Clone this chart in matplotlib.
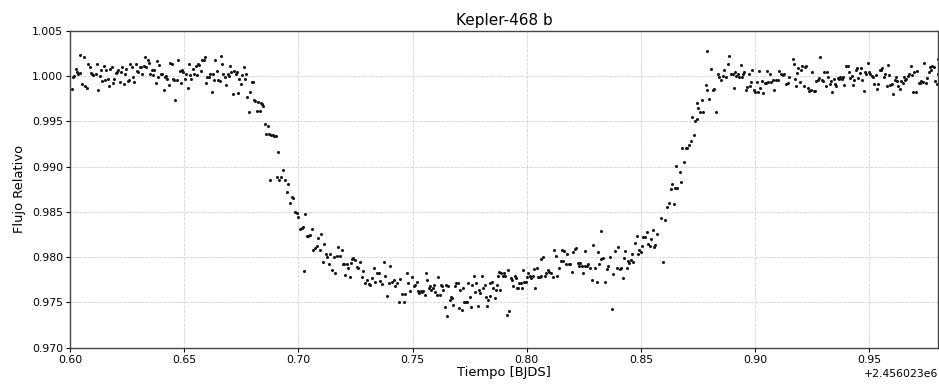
import numpy as np
import matplotlib
matplotlib.use("Agg")
import matplotlib.pyplot as plt

# === Data (time offsets in days, relative flux) ===
BJD_BASE = 2456023.0

t_pre = [0.6007, 0.6013, 0.6019, 0.6025, 0.6031, 0.6036, 0.6042, 0.6045, 0.6054, 0.6060,
         0.6068, 0.6074, 0.6080, 0.6086, 0.6092, 0.6098, 0.6103, 0.6112, 0.6118, 0.6124,
         0.6130, 0.6136, 0.6141, 0.6147, 0.6153, 0.6159, 0.6165, 0.6170, 0.6176, 0.6182,
         0.6188, 0.6194, 0.6200, 0.6205, 0.6211, 0.6217, 0.6223, 0.6229, 0.6235, 0.6240,
         0.6246, 0.6252, 0.6258, 0.6264, 0.6270, 0.6275, 0.6281, 0.6287, 0.6293, 0.6299,
         0.6305, 0.6310, 0.6316, 0.6322, 0.6328, 0.6334, 0.6340, 0.6345, 0.6351, 0.6357,
         0.6363, 0.6369, 0.6375, 0.6380, 0.6386, 0.6392, 0.6398, 0.6404, 0.6410, 0.6415,
         0.6421, 0.6427, 0.6433, 0.6439, 0.6445, 0.6450, 0.6456, 0.6462, 0.6468, 0.6474,
         0.6480, 0.6485, 0.6491, 0.6497, 0.6503, 0.6509, 0.6515, 0.6520, 0.6526, 0.6532,
         0.6538, 0.6544, 0.6550, 0.6555, 0.6561, 0.6567, 0.6573, 0.6579, 0.6585, 0.6590,
         0.6596, 0.6602, 0.6608, 0.6614, 0.6620, 0.6625, 0.6631, 0.6637, 0.6643, 0.6649,
         0.6655, 0.6660, 0.6666, 0.6672, 0.6678, 0.6684, 0.6690, 0.6695, 0.6701, 0.6707,
         0.6713, 0.6719, 0.6725, 0.6730, 0.6736, 0.6742, 0.6748, 0.6754, 0.6760, 0.6765,
         0.6771, 0.6777, 0.6783, 0.6789, 0.6795, 0.6800, 0.6806, 0.6812, 0.6818, 0.6824,
         0.6830, 0.6835, 0.6841, 0.6847, 0.6853, 0.6859, 0.6865, 0.6870, 0.6876, 0.6882,
         0.6888, 0.6894, 0.6900, 0.6905, 0.6911, 0.6917]
f_pre = [0.9986, 0.9999, 1.0000, 1.0008, 1.0005, 1.0002, 1.0004, 1.0024, 0.9991, 1.0021,
         0.9989, 0.9987, 1.0014, 1.0010, 1.0004, 1.0002, 1.0001, 1.0002, 1.0014, 0.9985,
         1.0000, 1.0007, 0.9995, 1.0011, 0.9996, 1.0007, 0.9997, 0.9989, 1.0008, 1.0010,
         0.9992, 0.9997, 1.0004, 1.0005, 1.0007, 0.9994, 1.0005, 1.0010, 0.9991, 1.0003,
         1.0008, 0.9995, 0.9996, 1.0013, 1.0010, 0.9999, 0.9994, 1.0013, 1.0006, 1.0005,
         1.0010, 1.0010, 1.0003, 1.0011, 1.0021, 1.0010, 1.0018, 1.0015, 1.0003, 1.0007,
         1.0001, 1.0007, 0.9992, 1.0017, 0.9999, 1.0012, 1.0002, 1.0002, 0.9985, 0.9999,
         1.0000, 0.9997, 0.9990, 1.0015, 1.0014, 0.9997, 0.9996, 0.9974, 0.9996, 1.0018,
         1.0006, 0.9992, 1.0007, 1.0005, 0.9997, 1.0003, 0.9987, 1.0013, 1.0001, 0.9997,
         1.0008, 1.0002, 1.0011, 1.0001, 1.0014, 1.0012, 1.0006, 1.0018, 1.0018, 1.0021,
         0.9993, 0.9999, 0.9999, 1.0002, 0.9983, 1.0003, 0.9996, 1.0018, 1.0006, 0.9996,
         0.9995, 1.0022, 1.0014, 1.0003, 0.9999, 0.9990, 1.0002, 1.0000, 1.0011, 1.0005,
         0.9980, 1.0006, 1.0002, 1.0005, 0.9982, 0.9997, 0.9991, 1.0001, 1.0010, 0.9997,
         1.0002, 0.9977, 0.9960, 0.9983, 0.9994, 0.9994, 0.9974, 0.9973, 0.9962, 0.9972,
         0.9962, 0.9970, 0.9969, 0.9967, 0.9947, 0.9936, 0.9945, 0.9936, 0.9885, 0.9935,
         0.9935, 0.9934, 0.9934, 0.9889, 0.9916, 0.9885]

t_ingress = [0.6923, 0.6934, 0.6942, 0.6949, 0.6956, 0.6963, 0.6971, 0.6978, 0.6985, 0.6993,
             0.7000, 0.7007, 0.7015, 0.7022, 0.7025, 0.7029, 0.7037, 0.7044, 0.7051, 0.7058,
             0.7066, 0.7073, 0.7080, 0.7088, 0.7095, 0.7098, 0.7107, 0.7113, 0.7121, 0.7127,
             0.7136, 0.7139, 0.7146, 0.7154, 0.7161, 0.7168, 0.7175, 0.7183, 0.7190, 0.7194,
             0.7200, 0.7205, 0.7212, 0.7219, 0.7224, 0.7230, 0.7235, 0.7241, 0.7249, 0.7256,
             0.7263, 0.7270, 0.7278, 0.7285, 0.7292, 0.7300, 0.7307, 0.7314, 0.7322, 0.7329,
             0.7336, 0.7344, 0.7351, 0.7358, 0.7366, 0.7373, 0.7380, 0.7387, 0.7395, 0.7402,
             0.7409, 0.7417, 0.7424, 0.7431, 0.7439, 0.7443, 0.7453, 0.7461, 0.7468, 0.7475,
             0.7482, 0.7490, 0.7497]
f_ingress = [0.9889, 0.9896, 0.9885, 0.9872, 0.9881, 0.9860, 0.9866, 0.9865, 0.9850, 0.9849,
             0.9844, 0.9831, 0.9832, 0.9833, 0.9785, 0.9848, 0.9823, 0.9823, 0.9824, 0.9831,
             0.9808, 0.9810, 0.9812, 0.9821, 0.9808, 0.9826, 0.9795, 0.9815, 0.9803, 0.9800,
             0.9792, 0.9804, 0.9786, 0.9800, 0.9782, 0.9801, 0.9811, 0.9801, 0.9808, 0.9793,
             0.9793, 0.9780, 0.9793, 0.9788, 0.9778, 0.9794, 0.9798, 0.9799, 0.9797, 0.9789,
             0.9788, 0.9795, 0.9778, 0.9785, 0.9772, 0.9775, 0.9770, 0.9769, 0.9777, 0.9788,
             0.9773, 0.9782, 0.9783, 0.9774, 0.9770, 0.9795, 0.9779, 0.9757, 0.9772, 0.9790,
             0.9773, 0.9775, 0.9768, 0.9772, 0.9750, 0.9776, 0.9759, 0.9750, 0.9759, 0.9782,
             0.9772, 0.9763, 0.9778]

t_bottom = [0.7506, 0.7512, 0.7518, 0.7524, 0.7529, 0.7535, 0.7541, 0.7547, 0.7553, 0.7559,
            0.7565, 0.7571, 0.7576, 0.7582, 0.7588, 0.7594, 0.7600, 0.7606, 0.7612, 0.7618,
            0.7623, 0.7629, 0.7635, 0.7641, 0.7647, 0.7650, 0.7656, 0.7662, 0.7668, 0.7673,
            0.7679, 0.7685, 0.7691, 0.7697, 0.7703, 0.7709, 0.7715, 0.7720, 0.7726, 0.7732,
            0.7738, 0.7744, 0.7750, 0.7756, 0.7762, 0.7768, 0.7773, 0.7779, 0.7785, 0.7791,
            0.7797, 0.7803, 0.7809, 0.7815, 0.7820, 0.7826, 0.7832, 0.7838, 0.7841, 0.7848,
            0.7853, 0.7859, 0.7865, 0.7870, 0.7873, 0.7878, 0.7882, 0.7888, 0.7894, 0.7900,
            0.7906, 0.7912, 0.7917, 0.7923, 0.7929, 0.7935, 0.7941, 0.7947, 0.7951, 0.7956,
            0.7962, 0.7967, 0.7973, 0.7979, 0.7982, 0.7988, 0.7995, 0.8000, 0.8006, 0.8012,
            0.8017, 0.8025, 0.8032, 0.8038, 0.8044, 0.8050, 0.8056, 0.8062]
f_bottom = [0.9768, 0.9769, 0.9773, 0.9763, 0.9760, 0.9763, 0.9762, 0.9763, 0.9758, 0.9782,
            0.9775, 0.9766, 0.9768, 0.9764, 0.9766, 0.9769, 0.9761, 0.9758, 0.9778, 0.9758,
            0.9769, 0.9768, 0.9764, 0.9745, 0.9769, 0.9735, 0.9768, 0.9753, 0.9756, 0.9755,
            0.9747, 0.9768, 0.9771, 0.9771, 0.9744, 0.9764, 0.9742, 0.9766, 0.9751, 0.9751,
            0.9751, 0.9771, 0.9756, 0.9745, 0.9769, 0.9779, 0.9762, 0.9771, 0.9746, 0.9764,
            0.9760, 0.9779, 0.9766, 0.9769, 0.9756, 0.9746, 0.9753, 0.9771, 0.9757, 0.9773,
            0.9766, 0.9755, 0.9764, 0.9769, 0.9779, 0.9784, 0.9764, 0.9782, 0.9779, 0.9782,
            0.9779, 0.9736, 0.9786, 0.9741, 0.9777, 0.9775, 0.9768, 0.9779, 0.9777, 0.9766,
            0.9766, 0.9771, 0.9771, 0.9766, 0.9786, 0.9773, 0.9773, 0.9778, 0.9782, 0.9779,
            0.9777, 0.9779, 0.9787, 0.9766, 0.9788, 0.9778, 0.9778, 0.9798]

t_late = [0.8064, 0.8072, 0.8079, 0.8086, 0.8094, 0.8098, 0.8104, 0.8113, 0.8118, 0.8127,
          0.8133, 0.8142, 0.8148, 0.8154, 0.8159, 0.8165, 0.8171, 0.8177, 0.8183, 0.8189,
          0.8197, 0.8203, 0.8209, 0.8215, 0.8224, 0.8230, 0.8235, 0.8241, 0.8247, 0.8253,
          0.8256, 0.8262, 0.8269, 0.8276, 0.8284, 0.8291, 0.8298, 0.8306, 0.8311, 0.8317,
          0.8323, 0.8327, 0.8335, 0.8342, 0.8349, 0.8357, 0.8364, 0.8371, 0.8379, 0.8386,
          0.8393, 0.8401, 0.8408, 0.8414, 0.8420, 0.8425, 0.8431, 0.8437, 0.8443, 0.8449,
          0.8455, 0.8461, 0.8466, 0.8474, 0.8481, 0.8487, 0.8493, 0.8499, 0.8504, 0.8510,
          0.8518, 0.8525, 0.8532, 0.8539, 0.8545, 0.8551, 0.8557, 0.8563]
f_late = [0.9779, 0.9800, 0.9779, 0.9782, 0.9786, 0.9784, 0.9782, 0.9778, 0.9808, 0.9801,
          0.9779, 0.9788, 0.9796, 0.9808, 0.9796, 0.9807, 0.9792, 0.9803, 0.9792, 0.9793,
          0.9784, 0.9806, 0.9809, 0.9810, 0.9794, 0.9790, 0.9794, 0.9790, 0.9782, 0.9790,
          0.9807, 0.9790, 0.9793, 0.9788, 0.9775, 0.9813, 0.9788, 0.9773, 0.9806, 0.9792,
          0.9798, 0.9829, 0.9799, 0.9773, 0.9787, 0.9790, 0.9800, 0.9743, 0.9781, 0.9807,
          0.9788, 0.9811, 0.9787, 0.9788, 0.9777, 0.9799, 0.9807, 0.9788, 0.9796, 0.9794,
          0.9797, 0.9804, 0.9795, 0.9816, 0.9823, 0.9803, 0.9808, 0.9806, 0.9812, 0.9822,
          0.9822, 0.9828, 0.9815, 0.9812, 0.9820, 0.9830, 0.9811, 0.9813]

t_egress = [0.8572, 0.8586, 0.8598, 0.8605, 0.8615, 0.8623, 0.8630, 0.8637, 0.8643, 0.8649,
            0.8652, 0.8659, 0.8670, 0.8674, 0.8681, 0.8689, 0.8696, 0.8703, 0.8711, 0.8718,
            0.8725, 0.8730, 0.8737, 0.8743, 0.8747, 0.8751, 0.8757, 0.8766, 0.8772, 0.8784,
            0.8788, 0.8791, 0.8798, 0.8806, 0.8813, 0.8820, 0.8827, 0.8835, 0.8842, 0.8849,
            0.8857, 0.8864, 0.8871, 0.8879, 0.8886, 0.8893, 0.8901, 0.8908, 0.8912, 0.8918,
            0.8923, 0.8930, 0.8936, 0.8942, 0.8947, 0.8953, 0.8959, 0.8965, 0.8971, 0.8977,
            0.8982, 0.8988, 0.8994, 0.9000, 0.9006, 0.9012, 0.9018, 0.9023, 0.9029, 0.9035,
            0.9041, 0.9047, 0.9053, 0.9058, 0.9064, 0.9070, 0.9076, 0.9083, 0.9091, 0.9098,
            0.9105, 0.9113, 0.9120, 0.9127, 0.9135, 0.9142, 0.9149]
f_egress = [0.9826, 0.9843, 0.9795, 0.9841, 0.9856, 0.9860, 0.9875, 0.9881, 0.9859, 0.9876,
            0.9901, 0.9876, 0.9894, 0.9883, 0.9921, 0.9905, 0.9921, 0.9921, 0.9924, 0.9928,
            0.9955, 0.9935, 0.9950, 0.9970, 0.9953, 0.9965, 0.9961, 0.9974, 0.9961, 0.9990,
            1.0028, 0.9985, 0.9975, 1.0008, 0.9985, 0.9986, 0.9960, 1.0003, 0.9999, 0.9996,
            1.0000, 1.0007, 0.9999, 1.0014, 1.0022, 1.0003, 1.0002, 0.9987, 1.0005, 1.0000,
            1.0003, 0.9999, 1.0012, 0.9999, 1.0003, 1.0005, 0.9985, 0.9988, 1.0003, 0.9989,
            0.9994, 1.0007, 0.9985, 0.9983, 0.9994, 0.9983, 1.0006, 0.9987, 0.9995, 0.9982,
            0.9993, 0.9993, 1.0006, 0.9994, 1.0002, 0.9994, 0.9996, 0.9985, 0.9996, 0.9996,
            1.0006, 1.0002, 1.0001, 1.0003, 0.9991, 0.9993, 0.9999]

t_post = [0.9164, 0.9168, 0.9174, 0.9178, 0.9183, 0.9189, 0.9194, 0.9200, 0.9206, 0.9212,
          0.9218, 0.9224, 0.9230, 0.9237, 0.9244, 0.9250, 0.9256, 0.9262, 0.9268, 0.9273,
          0.9279, 0.9285, 0.9291, 0.9297, 0.9303, 0.9308, 0.9314, 0.9320, 0.9326, 0.9332,
          0.9338, 0.9344, 0.9349, 0.9355, 0.9361, 0.9367, 0.9373, 0.9379, 0.9385, 0.9390,
          0.9399, 0.9405, 0.9411, 0.9417, 0.9423, 0.9428, 0.9434, 0.9440, 0.9446, 0.9452,
          0.9458, 0.9463, 0.9469, 0.9475, 0.9481, 0.9487, 0.9493, 0.9499, 0.9504, 0.9510,
          0.9516, 0.9522, 0.9528, 0.9534, 0.9539, 0.9545, 0.9551, 0.9557, 0.9563, 0.9569,
          0.9575, 0.9580, 0.9586, 0.9592, 0.9598, 0.9604, 0.9610, 0.9615, 0.9621, 0.9627,
          0.9633, 0.9639, 0.9645, 0.9651, 0.9656, 0.9662, 0.9668, 0.9674, 0.9680, 0.9686,
          0.9692, 0.9697, 0.9703, 0.9709, 0.9715, 0.9721, 0.9727, 0.9735, 0.9741, 0.9747,
          0.9753, 0.9759, 0.9765, 0.9770, 0.9776, 0.9782, 0.9788, 0.9794, 0.9798, 0.9800]
f_post = [1.0019, 1.0013, 0.9997, 0.9989, 1.0004, 1.0009, 0.9994, 1.0007, 1.0011, 0.9989,
          1.0010, 1.0011, 0.9987, 0.9984, 0.9985, 1.0005, 0.9984, 0.9984, 0.9995, 0.9996,
          0.9998, 1.0021, 0.9996, 0.9995, 1.0005, 0.9989, 1.0005, 0.9999, 0.9991, 0.9995,
          0.9983, 0.9997, 0.9991, 0.9989, 0.9998, 0.9997, 0.9999, 0.9997, 0.9999, 0.9990,
          1.0011, 1.0011, 1.0005, 0.9998, 1.0000, 0.9990, 0.9996, 1.0007, 1.0009, 0.9998,
          1.0004, 1.0009, 0.9996, 0.9984, 1.0005, 1.0003, 1.0015, 1.0005, 1.0003, 1.0000,
          0.9999, 0.9991, 1.0001, 0.9986, 0.9991, 1.0007, 1.0007, 1.0009, 0.9999, 1.0003,
          0.9989, 1.0012, 1.0001, 0.9990, 0.9991, 0.9980, 0.9996, 0.9999, 0.9995, 0.9989,
          0.9986, 0.9995, 0.9993, 0.9999, 0.9996, 0.9997, 1.0000, 1.0002, 1.0011, 1.0001,
          0.9983, 1.0005, 0.9983, 1.0006, 0.9993, 0.9992, 0.9995, 0.9994, 1.0015, 0.9993,
          0.9998, 1.0005, 1.0010, 1.0007, 1.0011, 1.0010, 0.9995, 0.9991, 1.0003, 1.0019]

time = BJD_BASE + np.array(t_pre + t_ingress + t_bottom + t_late + t_egress + t_post)
flux = np.array(f_pre + f_ingress + f_bottom + f_late + f_egress + f_post)

# === Plot ===
plt.rcParams["font.family"] = "DejaVu Sans"
fig = plt.figure(figsize=(9.39, 3.85), dpi=100)
ax = fig.add_axes([0.0745, 0.0969, 0.9244, 0.8226])

ax.plot(time, flux, "o", color="#151515", markersize=2.2, markeredgewidth=0)

ax.set_xlim(BJD_BASE + 0.60, BJD_BASE + 0.98)
ax.set_ylim(0.970, 1.005)
ax.set_title("Kepler-468 b", fontsize=11, pad=4)
ax.set_xlabel("Tiempo [BJDS]", fontsize=9.4, labelpad=1)
ax.set_ylabel("Flujo Relativo", fontsize=9.4, labelpad=4)
ax.tick_params(labelsize=7.8, length=3, pad=2)
ax.xaxis.get_offset_text().set_fontsize(7.8)
ax.grid(True, linestyle="--", color="#d2d2d2", linewidth=0.6)
for sp in ax.spines.values():
    sp.set_color("#444444")
    sp.set_linewidth(1.0)

fig.savefig("out.png", dpi=100)
